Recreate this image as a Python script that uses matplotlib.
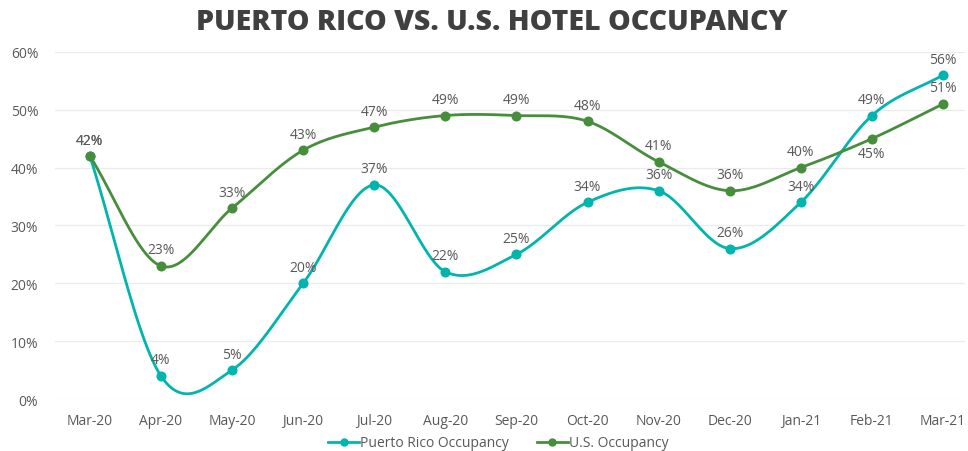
import numpy as np
import matplotlib
matplotlib.use("Agg")
import matplotlib.pyplot as plt
from matplotlib.lines import Line2D

months = ["Mar-20", "Apr-20", "May-20", "Jun-20", "Jul-20", "Aug-20", "Sep-20",
          "Oct-20", "Nov-20", "Dec-20", "Jan-21", "Feb-21", "Mar-21"]
pr_occupancy = [0.42, 0.04, 0.05, 0.20, 0.37, 0.22, 0.25, 0.34, 0.36, 0.26, 0.34, 0.49, 0.56]
us_occupancy = [0.42, 0.23, 0.33, 0.43, 0.47, 0.49, 0.49, 0.48, 0.41, 0.36, 0.40, 0.45, 0.51]
series_names = ["Puerto Rico Occupancy", "U.S. Occupancy"]
title = "PUERTO RICO VS. U.S. HOTEL OCCUPANCY"

PR_COLOR = "#00B5AD"
US_COLOR = "#468E3C"
TEXT = "#595959"
FONT = ["Open Sans", "DejaVu Sans"]
plt.rcParams["font.family"] = FONT


def smooth(y, n=40):
    """Catmull-Rom spline through the points (Excel-like smoothed line)."""
    y = np.asarray(y, dtype=float)
    x = np.arange(len(y), dtype=float)
    xs, ys = [], []
    for i in range(len(y) - 1):
        p0 = y[i - 1] if i > 0 else y[i]
        p1, p2 = y[i], y[i + 1]
        p3 = y[i + 2] if i + 2 < len(y) else y[i + 1]
        m1 = (p2 - p0) / 2 if i > 0 else (p2 - p1)
        m2 = (p3 - p1) / 2 if i + 2 < len(y) else (p2 - p1)
        t = np.linspace(0, 1, n, endpoint=(i == len(y) - 2))
        h00 = 2 * t**3 - 3 * t**2 + 1
        h10 = t**3 - 2 * t**2 + t
        h01 = -2 * t**3 + 3 * t**2
        h11 = t**3 - t**2
        xs.append(x[i] + t)
        ys.append(h00 * p1 + h10 * m1 + h01 * p2 + h11 * m2)
    return np.concatenate(xs), np.concatenate(ys)


fig = plt.figure(figsize=(9.68, 4.52), dpi=100)
ax = fig.add_axes([0.0568, 0.115, 0.9402, 0.768])

x = np.arange(len(months))
for vals, color in [(pr_occupancy, PR_COLOR), (us_occupancy, US_COLOR)]:
    sx, sy = smooth(vals)
    ax.plot(sx, sy, color=color, lw=2.0, solid_capstyle="round", zorder=3)
    ax.plot(x, vals, "o", color=color, ms=6.2, zorder=4)

below = {("us", 11)}
for key, vals in [("pr", pr_occupancy), ("us", us_occupancy)]:
    for i, v in enumerate(vals):
        off = -15 if (key, i) in below else 16
        ax.annotate(f"{round(v * 100):d}%", (i, v), xytext=(0, off),
                    textcoords="offset pixels",
                    ha="center", va="center", fontsize=10, color=TEXT, zorder=5)

ax.set_xlim(-0.49, 12.31)
ax.set_ylim(0, 0.6)
ax.set_yticks(np.arange(0, 0.61, 0.1))
ax.set_yticklabels([f"{int(round(t * 100))}%" for t in np.arange(0, 0.61, 0.1)])
ax.set_xticks(x)
ax.set_xticklabels(months)
ax.tick_params(axis="both", length=0, labelsize=10, labelcolor=TEXT)
ax.tick_params(axis="y", pad=12)
ax.tick_params(axis="x", pad=10)
ax.grid(axis="y", color="#EBEBEB", lw=0.9)
ax.set_axisbelow(True)
for s in ax.spines.values():
    s.set_visible(False)

fig.text(0.508, 0.950, title, ha="center", va="center", fontsize=20.5,
         fontweight="heavy", color="#404040")

handles = [Line2D([0], [0], color=PR_COLOR, lw=2.0, marker="o", ms=5),
           Line2D([0], [0], color=US_COLOR, lw=2.0, marker="o", ms=5)]
fig.legend(handles, series_names, loc="center", bbox_to_anchor=(0.515, 0.018),
           ncol=2, frameon=False, fontsize=10, labelcolor=TEXT,
           handlelength=2.2, handletextpad=0.1, columnspacing=2.0)

fig.savefig("out.png", dpi=100)
